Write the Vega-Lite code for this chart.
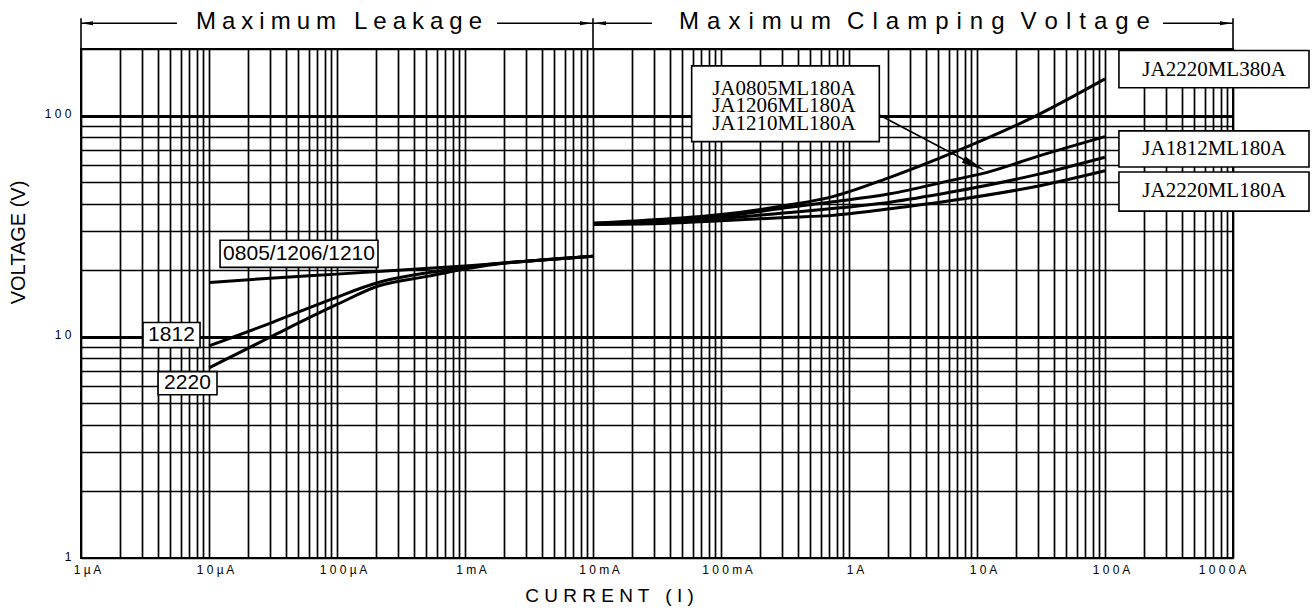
{
  "$schema": "https://vega.github.io/schema/vega-lite/v6.json",
  "width": 1152,
  "height": 509,
  "autosize": {"type": "none"},
  "padding": {"left": 81, "top": 49, "right": 82, "bottom": 54},
  "background": "white",
  "config": {"view": {"stroke": "black", "strokeWidth": 2}, "font": "Liberation Sans"},
  "datasets": {
    "curves": [
      {"series": "0805/1206/1210", "I": 1e-5, "V": 17.6},
      {"series": "0805/1206/1210", "I": 3e-5, "V": 18.4},
      {"series": "0805/1206/1210", "I": 1e-4, "V": 19.2},
      {"series": "0805/1206/1210", "I": 3e-4, "V": 20.0},
      {"series": "0805/1206/1210", "I": 1e-3, "V": 20.9},
      {"series": "0805/1206/1210", "I": 3e-3, "V": 21.95},
      {"series": "0805/1206/1210", "I": 1e-2, "V": 23.1},
      {"series": "1812", "I": 1e-5, "V": 9.1},
      {"series": "1812", "I": 3.1e-5, "V": 11.6},
      {"series": "1812", "I": 9.1e-5, "V": 14.8},
      {"series": "1812", "I": 2.1e-4, "V": 17.6},
      {"series": "1812", "I": 5.2e-4, "V": 19.5},
      {"series": "1812", "I": 9e-4, "V": 20.4},
      {"series": "1812", "I": 1.5e-3, "V": 21.25},
      {"series": "1812", "I": 3e-3, "V": 21.95},
      {"series": "1812", "I": 1e-2, "V": 23.1},
      {"series": "2220", "I": 1e-5, "V": 7.24},
      {"series": "2220", "I": 3.1e-5, "V": 10.06},
      {"series": "2220", "I": 1e-4, "V": 14.0},
      {"series": "2220", "I": 2.1e-4, "V": 16.96},
      {"series": "2220", "I": 5.2e-4, "V": 18.8},
      {"series": "2220", "I": 1.07e-3, "V": 20.4},
      {"series": "2220", "I": 2e-3, "V": 21.5},
      {"series": "2220", "I": 3e-3, "V": 21.95},
      {"series": "2220", "I": 1e-2, "V": 23.1},
      {"series": "JA2220ML380A", "I": 0.01, "V": 32.6},
      {"series": "JA2220ML380A", "I": 0.03, "V": 33.8},
      {"series": "JA2220ML380A", "I": 0.1, "V": 35.7},
      {"series": "JA2220ML380A", "I": 0.346, "V": 39.5},
      {"series": "JA2220ML380A", "I": 0.71, "V": 42.7},
      {"series": "JA2220ML380A", "I": 2.09, "V": 52.6},
      {"series": "JA2220ML380A", "I": 6.15, "V": 67.1},
      {"series": "JA2220ML380A", "I": 31, "V": 101.8},
      {"series": "JA2220ML380A", "I": 100, "V": 146.5},
      {"series": "JA0805/1206/1210ML180A", "I": 0.01, "V": 32.6},
      {"series": "JA0805/1206/1210ML180A", "I": 0.03, "V": 33.3},
      {"series": "JA0805/1206/1210ML180A", "I": 0.1, "V": 35.0},
      {"series": "JA0805/1206/1210ML180A", "I": 0.346, "V": 38.5},
      {"series": "JA0805/1206/1210ML180A", "I": 0.71, "V": 40.6},
      {"series": "JA0805/1206/1210ML180A", "I": 2.09, "V": 44.3},
      {"series": "JA0805/1206/1210ML180A", "I": 6.15, "V": 50.8},
      {"series": "JA0805/1206/1210ML180A", "I": 12, "V": 55.4},
      {"series": "JA0805/1206/1210ML180A", "I": 31, "V": 65.9},
      {"series": "JA0805/1206/1210ML180A", "I": 100, "V": 80.4},
      {"series": "JA1812ML180A", "I": 0.01, "V": 32.4},
      {"series": "JA1812ML180A", "I": 0.03, "V": 32.8},
      {"series": "JA1812ML180A", "I": 0.1, "V": 34.3},
      {"series": "JA1812ML180A", "I": 0.346, "V": 36.5},
      {"series": "JA1812ML180A", "I": 0.71, "V": 37.9},
      {"series": "JA1812ML180A", "I": 2.09, "V": 40.6},
      {"series": "JA1812ML180A", "I": 6.15, "V": 45.0},
      {"series": "JA1812ML180A", "I": 31, "V": 54.5},
      {"series": "JA1812ML180A", "I": 100, "V": 64.8},
      {"series": "JA2220ML180A", "I": 0.01, "V": 32.2},
      {"series": "JA2220ML180A", "I": 0.03, "V": 32.4},
      {"series": "JA2220ML180A", "I": 0.1, "V": 33.5},
      {"series": "JA2220ML180A", "I": 0.346, "V": 34.7},
      {"series": "JA2220ML180A", "I": 0.71, "V": 35.3},
      {"series": "JA2220ML180A", "I": 2.09, "V": 37.9},
      {"series": "JA2220ML180A", "I": 6.15, "V": 41.2},
      {"series": "JA2220ML180A", "I": 31, "V": 48.2},
      {"series": "JA2220ML180A", "I": 100, "V": 56.3}
    ],
    "boxes": [
      {"name": "0805/1206/1210", "I": 1.22e-5, "V": 27.3, "I2": 2.09e-4, "V2": 20.6},
      {"name": "1812", "I": 3.05e-6, "V": 11.61, "I2": 8.51e-6, "V2": 8.94},
      {"name": "2220", "I": 4.0e-6, "V": 6.96, "I2": 1.155e-5, "V2": 5.47},
      {"name": "JA0805/1206/1210ML180A", "I": 0.059, "V": 167.7, "I2": 1.725, "V2": 76.3},
      {"name": "JA2220ML380A", "I": 128.5, "V": 196.8, "I2": 3924, "V2": 133.7},
      {"name": "JA1812ML180A", "I": 128.5, "V": 85.3, "I2": 3924, "V2": 58.6},
      {"name": "JA2220ML180A", "I": 128.5, "V": 55.6, "I2": 3924, "V2": 37.0}
    ],
    "sansLabels": [
      {"label": "0805/1206/1210", "I": 5.05e-5, "V": 23.6},
      {"label": "1812", "I": 5.09e-6, "V": 10.19},
      {"label": "2220", "I": 6.79e-6, "V": 6.17}
    ],
    "serifLabels": [
      {"label": "JA0805ML180A\nJA1206ML180A\nJA1210ML180A", "I": 0.31, "V": 131.9},
      {"label": "JA2220ML380A", "I": 711, "V": 161.3},
      {"label": "JA1812ML180A", "I": 711, "V": 70.3},
      {"label": "JA2220ML180A", "I": 711, "V": 45.4}
    ],
    "headersLeft": [
      {"label": "M\u2005a\u2005x\u2005i\u2005m\u2005u\u2005m\u2005\u2005\u2005L\u2005e\u2005a\u2005k\u2005a\u2005g\u2005e", "I": 1.037e-4, "V": 264.9}
    ],
    "headersRight": [
      {"label": "M\u2004a\u2004x\u2004i\u2004m\u2004u\u2004m\u2004\u2004C\u2004l\u2004a\u2004m\u2004p\u2004i\u2004n\u2004g\u2004\u2004V\u2004o\u2004l\u2004t\u2004a\u2004g\u2004e", "I": 3.25, "V": 264.9}
    ],
    "segments": [
      {"I": 1e-6, "V": 261.4, "I2": 5.62e-6, "V2": 261.4},
      {"I": 1.778e-3, "V": 261.4, "I2": 0.01, "V2": 261.4},
      {"I": 0.01, "V": 261.4, "I2": 0.0289, "V2": 261.4},
      {"I": 284, "V": 261.4, "I2": 1000, "V2": 261.4},
      {"I": 1e-6, "V": 275.4, "I2": 1e-6, "V2": 200},
      {"I": 0.01, "V": 275.4, "I2": 0.01, "V2": 200},
      {"I": 1000, "V": 275.4, "I2": 1000, "V2": 200},
      {"I": 1.71, "V": 100.8, "I2": 9.52, "V2": 59.8}
    ],
    "heads": [
      {"dir": "left", "I": 1.114e-6, "V": 261.4},
      {"dir": "left", "I": 0.01135, "V": 261.4},
      {"dir": "right", "I": 8.81e-3, "V": 261.4},
      {"dir": "right", "I": 881, "V": 261.4},
      {"dir": "diag", "I": 9.52, "V": 59.8}
    ]
  },
  "encoding": {
    "x": {
      "field": "I",
      "type": "quantitative",
      "scale": {"type": "log", "domain": [1e-6, 1000], "nice": false},
      "axis": {
        "values": [1e-6,2e-6,3e-6,4e-6,5e-6,6e-6,7e-6,8e-6,9e-6,
                   1e-5,2e-5,3e-5,4e-5,5e-5,6e-5,7e-5,8e-5,9e-5,
                   1e-4,2e-4,3e-4,4e-4,5e-4,6e-4,7e-4,8e-4,9e-4,
                   1e-3,2e-3,3e-3,4e-3,5e-3,6e-3,7e-3,8e-3,9e-3,
                   1e-2,2e-2,3e-2,4e-2,5e-2,6e-2,7e-2,8e-2,9e-2,
                   0.1,0.2,0.3,0.4,0.5,0.6,0.7,0.8,0.9,
                   1,2,3,4,5,6,7,8,9,
                   10,20,30,40,50,60,70,80,90,
                   100,200,300,400,500,600,700,800,900,1000],
        "labelExpr": "abs(log(datum.value)/LN10 - round(log(datum.value)/LN10)) < 0.001 ? ['1 µ A','1 0 µ A','1 0 0 µ A','1 m A','1 0 m A','1 0 0 m A','1 A','1 0 A','1 0 0 A','1 0 0 0 A'][round(log(datum.value)/LN10)+6] : ''",
        "grid": true,
        "gridColor": "black",
        "gridOpacity": 1,
        "gridWidth": 1.7,
        "ticks": false,
        "domain": false,
        "labelFont": "Liberation Sans",
        "labelFontSize": 12,
        "labelColor": "black",
        "labelPadding": 6,
        "labelOffset": {"condition": {"test": "datum.value == 1000", "value": -11}, "value": 6},
        "labelFlush": false,
        "labelOverlap": false,
        "labelBound": false,
        "title": "C U R R E N T\u00a0\u00a0 ( I )",
        "titleFont": "Liberation Sans",
        "titleFontSize": 19,
        "titleFontWeight": "normal",
        "titleColor": "black",
        "titleX": 528,
        "titleY": 37,
        "titleAlign": "center",
        "titleBaseline": "middle"
      }
    },
    "y": {
      "field": "V",
      "type": "quantitative",
      "scale": {"type": "log", "domain": [1, 200], "nice": false},
      "axis": {
        "values": [1,2,3,4,5,6,7,8,9,10,20,30,40,50,60,70,80,90,100,200],
        "labelExpr": "datum.value == 1 ? '1' : datum.value == 10 ? '1 0' : datum.value == 100 ? '1 0 0' : ''",
        "grid": true,
        "gridColor": "black",
        "gridOpacity": 1,
        "gridWidth": {"condition": {"test": "datum.value == 10 || datum.value == 100", "value": 3.2}, "value": 1.7},
        "ticks": false,
        "domain": false,
        "labelFont": "Liberation Sans",
        "labelFontSize": 12,
        "labelColor": "black",
        "labelPadding": 10,
        "labelOffset": -2,
        "labelFlush": false,
        "labelOverlap": false,
        "labelBound": false,
        "title": "VOLTAGE (V)",
        "titleFont": "Liberation Sans",
        "titleFontSize": 20,
        "titleFontWeight": "normal",
        "titleColor": "black",
        "titleX": -63,
        "titleY": 193,
        "titleAlign": "center",
        "titleBaseline": "middle"
      }
    }
  },
  "layer": [
    {
      "data": {"name": "curves"},
      "mark": {"type": "line", "color": "black", "strokeWidth": 3, "interpolate": "monotone", "clip": false},
      "encoding": {"detail": {"field": "series", "type": "nominal"}}
    },
    {
      "data": {"name": "segments"},
      "mark": {"type": "rule", "color": "black", "strokeWidth": 1.6},
      "encoding": {"x2": {"field": "I2"}, "y2": {"field": "V2"}}
    },
    {
      "data": {"name": "heads"},
      "transform": [{"filter": "datum.dir == 'left'"}],
      "mark": {"type": "point", "shape": "M1,0L-1,-0.33L-1,0.33Z", "filled": true, "color": "black", "opacity": 1, "size": 144, "angle": 180, "strokeWidth": 0}
    },
    {
      "data": {"name": "heads"},
      "transform": [{"filter": "datum.dir == 'right'"}],
      "mark": {"type": "point", "shape": "M1,0L-1,-0.33L-1,0.33Z", "filled": true, "color": "black", "opacity": 1, "size": 144, "angle": 0, "strokeWidth": 0}
    },
    {
      "data": {"name": "heads"},
      "transform": [{"filter": "datum.dir == 'diag'"}],
      "mark": {"type": "point", "shape": "M1,0L-1,-0.3L-1,0.3Z", "filled": true, "color": "black", "opacity": 1, "size": 576, "angle": 27, "strokeWidth": 0}
    },
    {
      "data": {"name": "boxes"},
      "mark": {"type": "rect", "fill": "white", "stroke": "black", "strokeWidth": 1.6},
      "encoding": {"x2": {"field": "I2"}, "y2": {"field": "V2"}}
    },
    {
      "data": {"name": "sansLabels"},
      "mark": {"type": "text", "font": "Liberation Sans", "fontSize": 21, "color": "black", "align": "center", "baseline": "middle"},
      "encoding": {"text": {"field": "label"}}
    },
    {
      "data": {"name": "serifLabels"},
      "mark": {"type": "text", "font": "Liberation Serif", "fontSize": 21, "lineBreak": "\n", "lineHeight": 17.5, "color": "black", "align": "center", "baseline": "middle"},
      "encoding": {"text": {"field": "label"}}
    },
    {
      "data": {"name": "headersLeft"},
      "mark": {"type": "text", "font": "Liberation Sans", "fontSize": 24, "color": "black", "align": "center", "baseline": "middle"},
      "encoding": {"text": {"field": "label"}}
    },
    {
      "data": {"name": "headersRight"},
      "mark": {"type": "text", "font": "Liberation Sans", "fontSize": 24, "color": "black", "align": "center", "baseline": "middle"},
      "encoding": {"text": {"field": "label"}}
    }
  ]
}
